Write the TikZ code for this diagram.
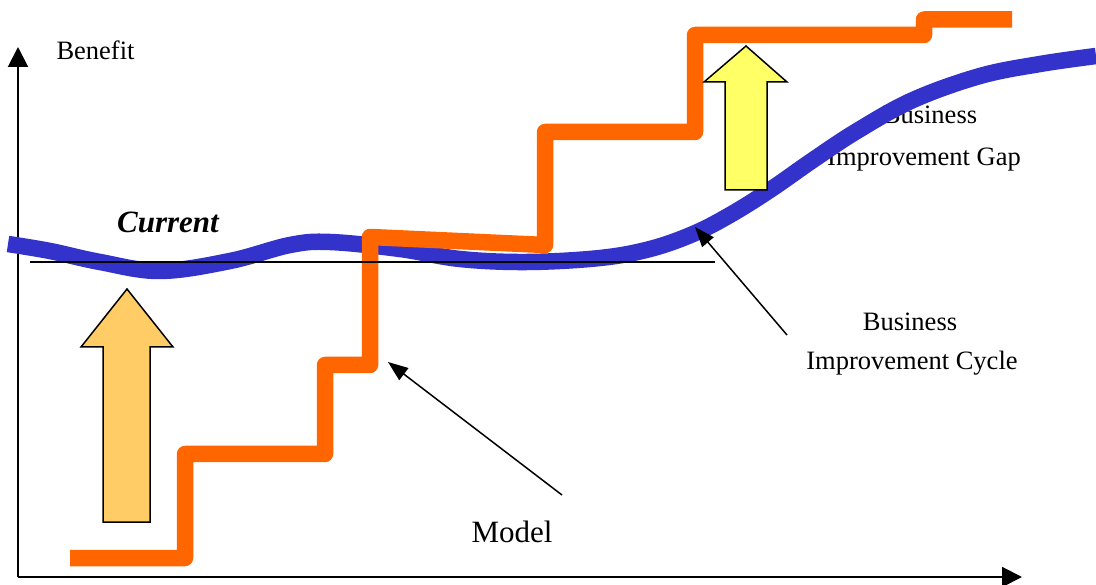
\documentclass[tikz,border=0pt]{standalone}
\usepackage{fontspec}
\setmainfont{Liberation Serif}
\usetikzlibrary{arrows.meta}

\definecolor{cycleblue}{HTML}{3333CC}
\definecolor{modelorange}{HTML}{FF6600}
\definecolor{liftorange}{HTML}{FFCC66}
\definecolor{gapyellow}{HTML}{FFFF66}

\begin{document}
\begin{tikzpicture}[x=1pt,y=-1pt,
  lbl/.style={inner sep=0pt, anchor=base, font=\fontsize{26.5}{30}\selectfont},
  biglbl/.style={inner sep=0pt, anchor=base, font=\fontsize{31}{36}\selectfont},
  axis/.style={line width=2pt, -{Triangle[length=20pt,width=20pt]}},
  pointer/.style={line width=1.5pt, -{Triangle[length=20pt,width=15pt]}},
  cycleline/.style={cycleblue, line width=16.5pt, line cap=butt},
  modelline/.style={modelorange, line width=16.5pt, line cap=butt, line join=round},
  blockarrow/.style={draw=black, line width=1.5pt, line join=miter}
]
\useasboundingbox (0,0) rectangle (1096,585);

% axes
\coordinate (origin) at (18,577);
\coordinate (ytop) at (18,47);
\coordinate (xend) at (1022,577);
\draw[axis] (origin) -- (ytop);
\draw[axis] (origin) -- (xend);
\node[lbl] (benefit) at (95.5,60) {Benefit};

% label lying under the cycle curve
\node[lbl] (gapA) at (930,124) {Business};
\node[lbl] (gapB) at (924,166) {Improvement Gap};

% business improvement cycle
\draw[cycleline] plot[smooth, tension=0.6] coordinates {
  (8,244) (50,251) (100,262) (160,271) (230,261) (290,245) (330,242)
  (400,249) (460,259) (527,262) (600,258) (650,249) (693,234) (730,215)
  (770,190) (813,160) (857,131) (913,100) (980,76) (1040,64) (1096,56)};

% model staircase
\draw[modelline] (70,558) -- (185,558) -- (185,454) -- (325,454) -- (325,365)
  -- (370,365) -- (370,237) -- (545,245) -- (545,132) -- (695,132) -- (695,35)
  -- (924,35) -- (924,19.5) -- (1012,19.5);

% current level
\coordinate (curA) at (30,262);
\coordinate (curB) at (715,262);
\draw[line width=1.8pt] (curA) -- (curB);
\node[biglbl, font=\fontsize{31}{36}\selectfont\bfseries\itshape] (current) at (168,233) {Current};

% block arrows
\draw[blockarrow, fill=liftorange] (127,289) -- (173,347) -- (150,347) -- (150,522)
  -- (103,522) -- (103,347) -- (81,347) -- cycle;
\draw[blockarrow, fill=gapyellow] (746,46) -- (787,82) -- (767,82) -- (767,190)
  -- (725,190) -- (725,82) -- (704,82) -- cycle;

% callouts
\node[lbl] (cycA) at (910,331) {Business};
\node[lbl] (cycB) at (912,370) {Improvement Cycle};
\coordinate (cyctail) at (787,335);
\coordinate (cyctip) at (695,227);
\draw[pointer] (cyctail) -- (cyctip);

\node[biglbl] (model) at (512,542) {Model};
\coordinate (modeltail) at (562,495);
\coordinate (modeltip) at (388,362);
\draw[pointer] (modeltail) -- (modeltip);
\end{tikzpicture}
\end{document}
